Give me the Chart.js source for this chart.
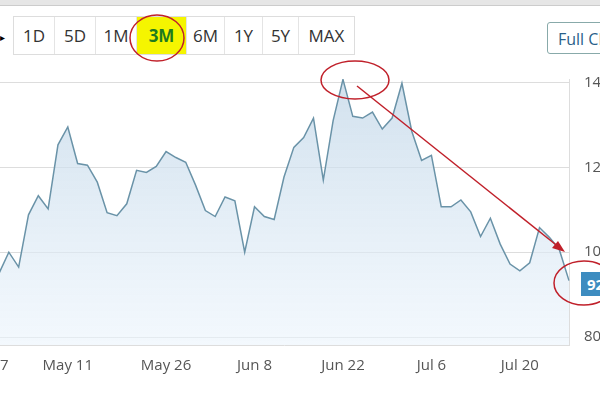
<!DOCTYPE html>
<html><head><meta charset="utf-8">
<script src="https://cdn.jsdelivr.net/npm/chart.js@4"></script>
<style>
body{margin:0;width:600px;height:400px;overflow:hidden;background:#fff;font-family:"Open Sans",sans-serif;position:relative}
#top{position:absolute;left:0;top:0;width:600px;height:5px;background:#e6e6e6;border-bottom:1px solid #ccc}
.btns{position:absolute;left:13px;top:16px;height:37px;display:flex;border:1px solid #ddd}
.btns div{height:37px;line-height:37px;font-size:17px;color:#333;text-align:center;border-right:1px solid #e4e4e4}
.btns div.sel{background:#f5f500;color:#1f7a1f;font-weight:bold}
#full{position:absolute;left:547px;top:22px;width:90px;height:32px;border:1px solid #8aa;border-radius:3px;font-size:16px;line-height:32px;color:#2a5f8a;padding-left:10px;box-sizing:border-box;white-space:nowrap;background:#fff}
#cv{position:absolute;left:-5px;top:55px}
#price{position:absolute;left:581px;top:272px;width:30px;height:24px;background:#3d8cc0;color:#fff;font-weight:bold;font-size:15px;line-height:24px;padding-left:6px}
#seven{position:absolute;left:0;top:354px;font-size:15px;color:#555}
svg{position:absolute;left:0;top:0}
</style></head><body>
<div id="top"></div>
<canvas id="cv" width="665" height="320" style="width:665px;height:320px"></canvas>
<div style="position:absolute;left:0;top:30px;font-size:10px">&#9656;</div>
<div class="btns">
<div style="width:40px">1D</div><div style="width:40px">5D</div><div style="width:40px">1M</div><div class="sel" style="width:49px">3M</div><div style="width:37px">6M</div><div style="width:37px">1Y</div><div style="width:35px">5Y</div><div style="width:55px;border-right:none">MAX</div>
</div>
<div id="full">Full Chart</div>
<div id="price">92</div>
<div id="seven">7</div>
<svg width="600" height="400">
<ellipse cx="157" cy="38" rx="27" ry="23" fill="none" stroke="#c0202a" stroke-width="1.5"/>
<ellipse cx="355" cy="80" rx="34" ry="19" fill="none" stroke="#c0202a" stroke-width="1.5"/>
<ellipse cx="584" cy="283" rx="30" ry="22" fill="none" stroke="#c0202a" stroke-width="1.5"/>
<line x1="357" y1="86" x2="560" y2="248" stroke="#c0202a" stroke-width="1.5"/>
<polygon points="565,252 552,248 558,241" fill="#c0202a"/>
</svg>
<script>
const labels=["Apr 27","","","","","","","May 11","","","","","","","","","","May 26","","","","","","","","","Jun 8","","","","","","","","","Jun 22","","","","","","","","","Jul 6","","","","","","","","","Jul 20","","","","",""];
const prices=[95,100,96.5,108.8,113.3,110.2,125.3,129.5,120.9,120.5,116.5,109.3,108.6,111.4,119.3,118.8,120.2,123.7,122.3,121.2,115.8,109.8,108.4,113,112.1,100,110.7,108.4,107.7,117.7,124.7,127,131.6,117,131,140.7,132,131.6,133,129,131.6,139.8,128.5,121.6,122.8,110.7,110.7,112.3,109.5,103.7,108,101.9,97.2,95.6,97.5,105.8,103.5,100.7,93.3];
const yTicks=[80,100,120,140];
const ctx=document.getElementById('cv').getContext('2d');
const g=ctx.createLinearGradient(0,0,0,290);
g.addColorStop(0,'rgba(190,212,230,0.75)');g.addColorStop(1,'rgba(235,244,252,0.6)');
new Chart(ctx,{type:'line',data:{labels:labels.slice(0,prices.length),datasets:[{data:prices,borderColor:'#6a93a8',borderWidth:1.5,pointRadius:0,fill:'origin',backgroundColor:g,tension:0}]},
options:{responsive:false,animation:false,layout:{padding:0},plugins:{legend:{display:false},tooltip:{enabled:false}},
scales:{x:{offset:false,grid:{display:false},border:{color:'#ddd'},ticks:{autoSkip:false,maxRotation:0,color:'#555',font:{size:15,family:'Open Sans'},padding:4,callback:(v,i)=>i===0?'':labels[i]},afterFit:s=>{s.height=30}},
y:{position:'right',min:78.14,max:140.8,afterBuildTicks:s=>{s.ticks=yTicks.map(v=>({value:v}))},grid:{color:'#ddd',drawTicks:false},border:{color:'#ddd'},ticks:{color:'#555',font:{size:15,family:'Open Sans'},padding:15},afterFit:s=>{s.width=91}}}}});
</script>
</body></html>
